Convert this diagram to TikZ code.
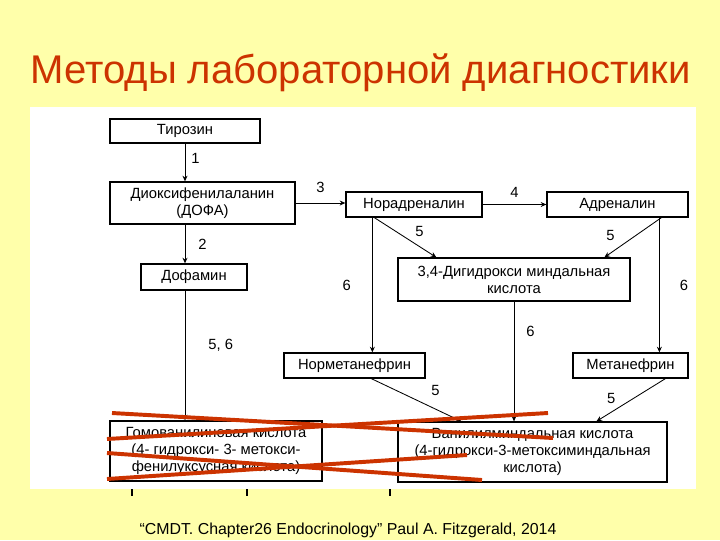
\documentclass[tikz,border=0pt]{standalone}
\usepackage{fontspec}
\setmainfont{Liberation Sans}
\usetikzlibrary{arrows.meta,positioning}
\definecolor{slidebg}{RGB}{255,255,170}
\definecolor{titlered}{RGB}{204,51,0}

\begin{document}
\begin{tikzpicture}[x=0.025cm, y=-0.025cm, thick,
    box/.style={draw, line width=0.9pt, inner sep=0pt, align=center,
      font=\fontsize{10.5}{12}\selectfont, minimum height=0.625cm},
    arr/.style={line width=0.6pt, -{Stealth[length=4pt, width=3.5pt]}},
    lbl/.style={inner sep=0pt, font=\fontsize{10.5}{12}\selectfont},
    strike/.style={titlered, line width=2.8pt}]
  % Фон слайда
  \useasboundingbox (0,0) rectangle (720,540);
  \fill[slidebg] (0,0) rectangle (720,540);
  \fill[white] (30,107) rectangle (696,489);

  % Заголовок
  \node[anchor=base west, inner sep=0pt, text=titlered,
    font=\fontsize{28.5}{32}\selectfont] (title) at (30,83)
    {Методы лабораторной диагностики};

  % Вещества
  \node[box, minimum width=3.75cm, minimum height=0.6cm] (tyr) at (185,131) {Тирозин};
  \node[box, minimum width=4.625cm, minimum height=1.05cm] (dopa) at (202.5,203)
    {Диоксифенилаланин\\(ДОФА)};
  \node[box, minimum width=2.65cm, minimum height=0.65cm] (dopamin) at (194,277) {Дофамин};
  \node[box, minimum width=3.4cm] (nor) at (414,204.5) {Норадреналин};
  \node[box, minimum width=3.525cm] (adr) at (617.5,204.5) {Адреналин};
  \node[box, minimum width=5.8cm, minimum height=1.075cm] (dhma) at (514,279.5)
    {3,4-Дигидрокси миндальная\\кислота};
  \node[box, minimum width=3.525cm] (normet) at (354.5,365.5) {Норметанефрин};
  \node[box, minimum width=2.875cm] (met) at (630.5,365.5) {Метанефрин};
  \node[box, minimum width=5.3cm, minimum height=1.5cm] (hva) at (216,451)
    {Гомованилиновая кислота\\(4- гидрокси- 3- метокси-\\фенилуксусная кислота)};
  \node[box, minimum width=6.725cm, minimum height=1.5cm] (vma) at (532.5,452)
    {Ванилилминдальная кислота\\(4-гидрокси-3-метоксиминдальная\\кислота)};

  % Точки выхода стрелок
  \coordinate (nor6) at ([xshift=0.675cm]nor.south west);
  \coordinate (adr6) at ([xshift=2.825cm]adr.south west);

  % Реакции
  \draw[arr] (tyr.south) -- (tyr.south |- dopa.north)
    node[lbl, pos=0.4, right=0.15cm] {1};
  \draw[arr] (tyr.south |- dopa.south) -- (tyr.south |- dopamin.north)
    node[lbl, midway, right=0.325cm] {2};
  \draw[arr] (dopa.east) -- (dopa.east -| nor.west)
    node[lbl, midway, above=0.25cm] {3};
  \draw[arr] (nor.east) -- (nor.east -| adr.west)
    node[lbl, midway, above=0.175cm] {4};
  \draw[arr] ([xshift=0.725cm]nor.south west) -- ([xshift=0.975cm]dhma.north west)
    node[lbl, midway, xshift=0.35cm, yshift=0.14cm] {5};
  \draw[arr] ([xshift=2.875cm]adr.south west) -- ([xshift=5.175cm]dhma.north west)
    node[lbl, midway, xshift=-0.56cm, yshift=0.04cm] {5};
  \draw[arr] (nor6) -- (nor6 |- normet.north)
    node[lbl, midway, left=0.525cm] {6};
  \draw[arr] (adr6) -- (adr6 |- met.north)
    node[lbl, midway, right=0.5cm] {6};
  \draw[arr] (dhma.south) -- (dhma.south |- vma.north)
    node[lbl, pos=0.25, right=0.3cm] {6};
  \draw[arr] (tyr.south |- dopamin.south) -- (tyr.south |- hva.north)
    node[lbl, pos=0.42, right=0.575cm] {5, 6};
  \draw[arr] ([xshift=2.2cm]normet.south west) -- ([xshift=1.6cm]vma.north west)
    node[lbl, midway, xshift=0.475cm, yshift=0.24cm] {5};
  \draw[arr] ([xshift=2.325cm]met.south west) -- ([xshift=4.975cm]vma.north west)
    node[lbl, midway, xshift=-0.49cm, yshift=0.04cm] {5};

  % Зачёркивание
  \draw[strike] (112,413) -- (553,438);
  \draw[strike] (107,439) -- (548,413);
  \draw[strike] (107,453) -- (482,480);
  \draw[strike] (107,479) -- (467,455);

  % Засечки под рисунком
  \foreach \tx in {132,247,390}
    \draw[line width=1.6pt] (\tx,489) -- (\tx,496);

  % Источник
  \node[anchor=base west, inner sep=0pt, font=\fontsize{11.3}{13}\selectfont] (src) at (139,534)
    {“CMDT. Chapter26 Endocrinology” Paul A. Fitzgerald, 2014};
\end{tikzpicture}
\end{document}
